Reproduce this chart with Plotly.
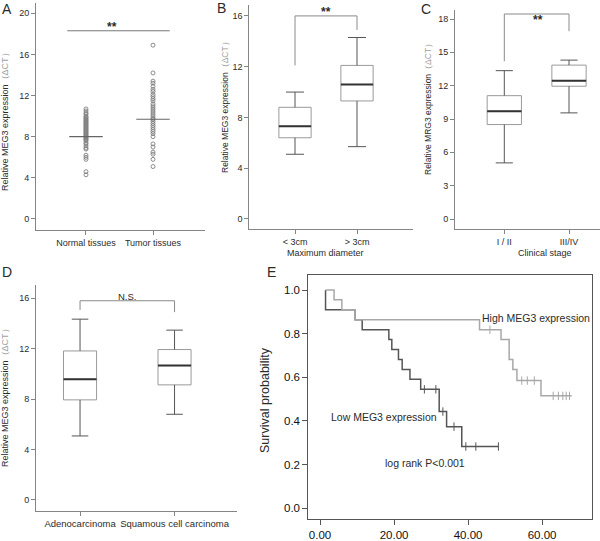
import plotly.graph_objects as go

W, H = 600, 541
FONT = "Liberation Sans, Arial, sans-serif"

# ---------------- data ----------------
# Panel A (scatter with mean lines)
a_categories = ["Normal tissues", "Tumor tissues"]
a_normal = [10.7, 10.5, 10.3, 10.2, 10.0, 9.9, 9.8, 9.7, 9.6, 9.5, 9.4, 9.3, 9.2,
            9.1, 9.0, 8.9, 8.8, 8.7, 8.6, 8.5, 8.4, 8.3, 8.2, 8.1, 8.0, 7.9, 7.8,
            7.7, 7.6, 7.4, 7.3, 7.1, 6.9, 6.8, 6.2, 6.0, 5.8, 4.6, 4.3]
a_tumor = [16.9, 14.2, 13.4, 13.2, 12.9, 12.6, 12.4, 12.1, 11.9, 11.7, 11.5, 11.2,
           11.0, 10.8, 10.6, 10.4, 10.2, 10.0, 9.8, 9.7, 9.5, 9.3, 9.1, 8.9, 8.7,
           8.5, 8.3, 8.0, 7.3, 7.0, 6.5, 6.3, 5.8, 5.1]
a_means = [8.0, 9.7]
a_sig = [18.3]
a_yticks = [0, 4, 8, 12, 16, 20]

# Panel B (box plot by diameter)
b_categories = ["&lt; 3cm", "&gt; 3cm"]
b_low = [5.1, 5.7]
b_q1 = [6.4, 9.3]
b_med = [7.3, 10.6]
b_q3 = [8.8, 12.1]
b_high = [10.0, 14.3]
b_bracket = [12.1, 16.0, 14.9]
b_yticks = [0, 4, 8, 12, 16]

# Panel C (box plot by clinical stage)
c_categories = ["I / II", "III/IV"]
c_low = [5.05, 9.55]
c_q1 = [8.5, 11.95]
c_med = [9.7, 12.45]
c_q3 = [11.1, 13.85]
c_high = [13.35, 14.3]
c_bracket = [14.2, 18.45, 16.9]
c_yticks = [0, 3, 6, 9, 12, 15, 18]

# Panel D (box plot by histology)
d_categories = ["Adenocarcinoma", "Squamous cell carcinoma"]
d_low = [5.08, 6.8]
d_q1 = [7.94, 9.13]
d_med = [9.58, 10.66]
d_q3 = [11.82, 11.93]
d_high = [14.34, 13.47]
d_bracket = [15.07, 15.8, 14.9]
d_yticks = [0, 4, 8, 12, 16]

# Panel E (Kaplan-Meier)
high_t = [1.5, 3.8, 5.9, 9.5, 43.1, 48.9, 51.1, 52.1, 53.2, 59.7, 68.0]
high_s = [1.0, 0.955, 0.909, 0.864, 0.818, 0.773, 0.682, 0.636, 0.585, 0.515, 0.515]
high_cens_t = [45.9, 54.5, 56.0, 57.9, 63.0, 64.4, 65.6, 66.5, 67.4]
low_t = [1.5, 1.5, 9.5, 11.4, 18.6, 19.4, 21.2, 22.2, 24.3, 27.2, 32.2, 34.2, 38.3, 48.2]
low_s = [1.0, 0.909, 0.864, 0.818, 0.773, 0.727, 0.682, 0.636, 0.591, 0.545, 0.443,
         0.374, 0.283, 0.283]
low_cens_t = [28.2, 31.3, 33.2, 36.2, 39.4, 42.1, 48.2]
e_xticks = [0, 20, 40, 60]
e_yticks = [0.0, 0.2, 0.4, 0.6, 0.8, 1.0]


def px_x(p):
    return p / W


def px_y(p):
    return 1 - p / H


def step_value(ts, ss, t):
    v = ss[0]
    for ti, si in zip(ts, ss):
        if ti <= t:
            v = si
    return v


fig = go.Figure()

AX_COLOR = "#858585"
TXT = "#2b2b2b"


def add_boxes(xa, ya, low, q1, med, q3, high, width, cap):
    wx, wy = [], []
    for i in range(len(med)):
        fig.add_trace(go.Box(
            x=[i], q1=[q1[i]], median=[med[i]], q3=[q3[i]],
            lowerfence=[q1[i]], upperfence=[q3[i]], width=width, whiskerwidth=0,
            line=dict(color="#9a9a9a", width=1), fillcolor="white",
            boxpoints=False, xaxis=xa, yaxis=ya, showlegend=False, hoverinfo="skip"))
        hw = width * cap / 2
        wx += [i, i, None, i - hw, i + hw, None, i, i, None, i - hw, i + hw, None]
        wy += [q3[i], high[i], None, high[i], high[i], None,
               q1[i], low[i], None, low[i], low[i], None]
        fig.add_trace(go.Scatter(
            x=[i - width / 2, i + width / 2], y=[med[i], med[i]], mode="lines",
            line=dict(color="#333333", width=2), xaxis=xa, yaxis=ya,
            showlegend=False, hoverinfo="skip"))
    fig.add_trace(go.Scatter(x=wx, y=wy, mode="lines",
                             line=dict(color="#555555", width=1),
                             xaxis=xa, yaxis=ya, showlegend=False, hoverinfo="skip"))


def add_bracket(xa, ya, br, color="#8a8a8a"):
    fig.add_trace(go.Scatter(x=[0, 0, 1, 1], y=[br[0], br[1], br[1], br[2]],
                             mode="lines", line=dict(color=color, width=1),
                             xaxis=xa, yaxis=ya, showlegend=False, hoverinfo="skip"))


# ---- Panel A ----
for i, vals in enumerate([a_normal, a_tumor]):
    fig.add_trace(go.Scatter(
        x=[i] * len(vals), y=vals, mode="markers",
        marker=dict(symbol="circle-open", size=4, color="#808080", line=dict(width=0.9)),
        xaxis="x", yaxis="y", showlegend=False, hoverinfo="skip"))
    fig.add_trace(go.Scatter(
        x=[i - 0.25, i + 0.25], y=[a_means[i], a_means[i]], mode="lines",
        line=dict(color="#666666", width=1.2), xaxis="x", yaxis="y",
        showlegend=False, hoverinfo="skip"))
fig.add_trace(go.Scatter(x=[-0.28, 1.25], y=[a_sig[0], a_sig[0]], mode="lines",
                         line=dict(color="#777777", width=1), xaxis="x", yaxis="y",
                         showlegend=False, hoverinfo="skip"))

# ---- Panel B, C, D ----
add_boxes("x2", "y2", b_low, b_q1, b_med, b_q3, b_high, 0.52, 0.56)
add_bracket("x2", "y2", b_bracket)
add_boxes("x3", "y3", c_low, c_q1, c_med, c_q3, c_high, 0.53, 0.5)
add_bracket("x3", "y3", c_bracket)
add_boxes("x4", "y4", d_low, d_q1, d_med, d_q3, d_high, 0.35, 0.5)
add_bracket("x4", "y4", d_bracket)

# ---- Panel E ----
LOWC, HIGHC = "#555555", "#a8a8a8"
fig.add_trace(go.Scatter(x=low_t, y=low_s, mode="lines", line=dict(color=LOWC, width=1.5, shape="hv"),
                         xaxis="x5", yaxis="y5", showlegend=False, hoverinfo="skip"))
fig.add_trace(go.Scatter(x=low_cens_t, y=[step_value(low_t, low_s, t) for t in low_cens_t],
                         mode="markers", marker=dict(symbol="line-ns-open", size=6, color=LOWC,
                                                     line=dict(color=LOWC, width=1)),
                         xaxis="x5", yaxis="y5", showlegend=False, hoverinfo="skip"))
fig.add_trace(go.Scatter(x=high_t, y=high_s, mode="lines", line=dict(color=HIGHC, width=1.5, shape="hv"),
                         xaxis="x5", yaxis="y5", showlegend=False, hoverinfo="skip"))
fig.add_trace(go.Scatter(x=high_cens_t, y=[step_value(high_t, high_s, t) for t in high_cens_t],
                         mode="markers", marker=dict(symbol="line-ns-open", size=6, color=HIGHC,
                                                     line=dict(color=HIGHC, width=1)),
                         xaxis="x5", yaxis="y5", showlegend=False, hoverinfo="skip"))


def axis(domain, rng, **kw):
    d = dict(domain=domain, range=rng, showline=True, linecolor=AX_COLOR, linewidth=1,
             ticks="outside", ticklen=4, tickcolor=AX_COLOR, showgrid=False,
             zeroline=False, tickfont=dict(family=FONT, size=9, color=TXT), fixedrange=True,
             tickangle=0)
    d.update(kw)
    return d


layout = dict(
    width=W, height=H, margin=dict(l=0, r=0, t=0, b=0), autosize=False,
    paper_bgcolor="white", plot_bgcolor="white", showlegend=False,
    font=dict(family=FONT, color=TXT),
    xaxis=axis([px_x(36), px_x(205)], [-0.746, 1.776], anchor="y",
               tickvals=[0, 1], ticktext=a_categories),
    yaxis=axis([px_y(230), px_y(3)], [-1.07, 21.0], anchor="x", tickvals=a_yticks),
    xaxis2=axis([px_x(249.3), px_x(413)], [-0.737, 1.903], anchor="y2",
                tickvals=[0, 1], ticktext=b_categories),
    yaxis2=axis([px_y(229.3), px_y(5)], [-0.812, 16.86], anchor="x2", tickvals=b_yticks),
    xaxis3=axis([px_x(455), px_x(600)], [-0.762, 1.479], anchor="y3",
                tickvals=[0, 1], ticktext=c_categories),
    yaxis3=axis([px_y(229.3), px_y(10)], [-0.927, 18.81], anchor="x3", tickvals=c_yticks),
    xaxis4=axis([px_x(36), px_x(237)], [-0.466, 1.661], anchor="y4",
                tickvals=[0, 1], ticktext=d_categories,
                tickfont=dict(family=FONT, size=9.5, color=TXT)),
    yaxis4=axis([px_y(510.7), px_y(285)], [-0.849, 17.05], anchor="x4", tickvals=d_yticks),
    xaxis5=axis([px_x(308.3), px_x(591.7)], [-3.16, 73.4], anchor="y5",
                tickvals=e_xticks, ticktext=["%.2f" % v for v in e_xticks],
                linecolor="#555555", tickcolor="#555555", ticklen=5, mirror=True,
                tickfont=dict(family=FONT, size=11.5, color="#111111")),
    yaxis5=axis([px_y(519.3), px_y(275)], [-0.0504, 1.0687], anchor="x5",
                tickvals=e_yticks, ticktext=["%.1f" % v for v in e_yticks],
                linecolor="#555555", tickcolor="#555555", ticklen=5, mirror=True,
                tickfont=dict(family=FONT, size=11.5, color="#111111")),
)
fig.update_layout(**layout)

ann = []


def text(x, y, s, size, color=TXT, angle=0):
    ann.append(dict(x=px_x(x), y=px_y(y), xref="paper", yref="paper", text=s,
                    showarrow=False, textangle=angle, xanchor="center", yanchor="middle",
                    font=dict(family=FONT, size=size, color=color)))


ytitle = "Relative {} expression<span style='color:#a0a0a0'>（ΔCT）</span>"
# panel letters
text(7, 9, "A", 14)
text(221, 8, "B", 14)
text(426, 9, "C", 14)
text(7, 272, "D", 14)
text(271, 272, "E", 14)
# y titles
text(5, 120, ytitle.format("MEG3"), 9, angle=-90)
text(225, 105, ytitle.format("MEG3"), 8.5, angle=-90)
text(428, 107, ytitle.format("MRG3"), 8.5, angle=-90)
text(5, 396, ytitle.format("MEG3"), 9, angle=-90)
text(265, 400, "Survival probability", 12.5, angle=-90)
# x titles
text(325, 253, "Maximum diameter", 9)
text(545, 253, "Clinical stage", 9)
# significance
text(112, 27, "<b>**</b>", 12)
text(326, 12, "<b>**</b>", 12)
text(538, 20, "<b>**</b>", 12)
text(127, 296, "N.S.", 9.5)
# KM annotations
text(536, 318, "High MEG3 expression", 10.5)
text(384, 417, "Low MEG3 expression", 10.5)
text(425, 463, "log rank P&lt;0.001", 10.5)

fig.update_layout(annotations=ann)
fig.write_html("out.html",
               config={"displayModeBar": False, "staticPlot": True},
               post_script="document.body.style.margin='0';document.body.style.padding='0';"
                           "document.body.style.overflow='hidden';")
